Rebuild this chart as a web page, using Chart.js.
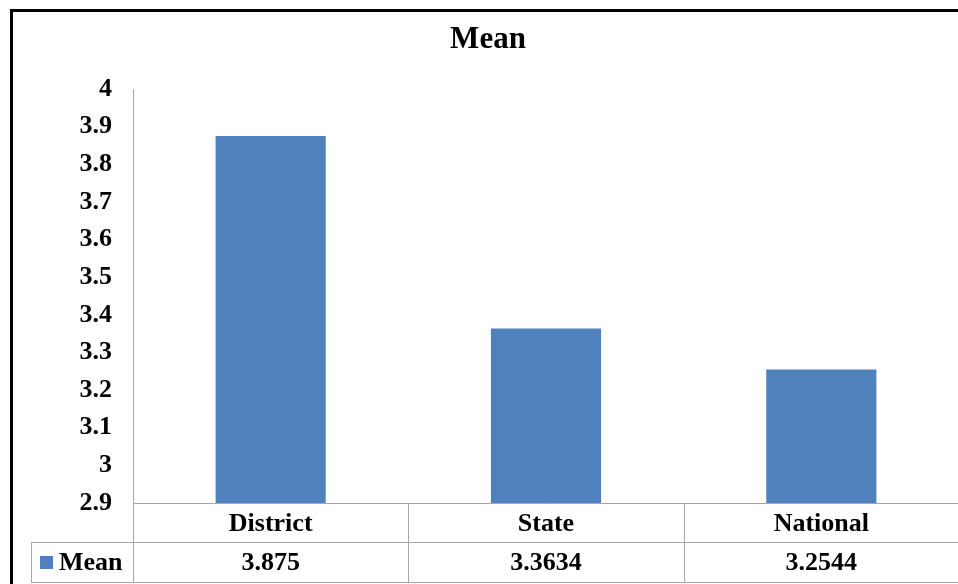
<!DOCTYPE html>
<html>
<head>
<meta charset="utf-8">
<script src="https://cdn.jsdelivr.net/npm/chart.js@4/dist/chart.umd.min.js"></script>
<style>
  html, body { margin: 0; padding: 0; background: #fff; overflow: hidden; }
  #wrap { position: relative; width: 960px; height: 584px; }
</style>
</head>
<body>
<div id="wrap"><canvas id="myChart"></canvas></div>
<script>
var categories = ["District", "State", "National"];
var meanValues = [3.875, 3.3634, 3.2544];
var valueLabels = ["3.875", "3.3634", "3.2544"];
var seriesName = "Mean";
var yTicks = [2.9, 3, 3.1, 3.2, 3.3, 3.4, 3.5, 3.6, 3.7, 3.8, 3.9, 4];

var serif = "'Liberation Serif', 'Times New Roman', serif";
var gridGray = "#a6a6a6";
var barBlue = "#4f81bd";

// frame, title and the data table under the bars
var tablePlugin = {
  id: "tablePlugin",
  afterDraw: function (chart) {
    var ctx = chart.ctx;
    var area = chart.chartArea;
    var xs = chart.scales.x;
    var left = area.left, right = area.right, bottom = area.bottom;
    var row2 = bottom + 39, row3 = bottom + 79;
    var step = (right - left) / categories.length;

    ctx.save();
    // outer black frame
    ctx.fillStyle = "#000";
    ctx.fillRect(10, 9, 960, 3);
    ctx.fillRect(10, 9, 3, 600);

    // title
    ctx.font = "bold 31px " + serif;
    ctx.textAlign = "center";
    ctx.textBaseline = "middle";
    ctx.fillText(seriesName, 488, 40);

    // table grid
    ctx.strokeStyle = gridGray;
    ctx.lineWidth = 1;
    ctx.beginPath();
    ctx.moveTo(31, row2 + 0.5); ctx.lineTo(right, row2 + 0.5);
    ctx.moveTo(31, row3 + 0.5); ctx.lineTo(right, row3 + 0.5);
    ctx.moveTo(31.5, row2); ctx.lineTo(31.5, row3);
    for (var i = 0; i <= categories.length; i++) {
      var gx = Math.round(left + i * step) + 0.5;
      ctx.moveTo(gx, bottom); ctx.lineTo(gx, row3);
    }
    ctx.stroke();

    // legend key
    ctx.fillStyle = barBlue;
    ctx.fillRect(40, 556, 13, 13);
    ctx.fillStyle = "#000";
    ctx.font = "bold 26px " + serif;
    ctx.textAlign = "left";
    ctx.fillText(seriesName, 59, (row2 + row3) / 2 + 1);

    // value row
    ctx.textAlign = "center";
    for (var j = 0; j < categories.length; j++) {
      ctx.fillText(valueLabels[j], xs.getPixelForValue(j), (row2 + row3) / 2 + 1);
    }
    ctx.restore();
  }
};

new Chart("myChart", {
  type: "bar",
  data: {
    labels: categories,
    datasets: [{
      label: seriesName,
      data: meanValues,
      backgroundColor: barBlue,
      categoryPercentage: 0.4,
      barPercentage: 1
    }]
  },
  options: {
    responsive: true,
    maintainAspectRatio: false,
    animation: false,
    layout: { padding: { top: 89, right: 1, bottom: 0, left: 0 } },
    plugins: {
      legend: { display: false },
      title: { display: false },
      tooltip: { enabled: false }
    },
    scales: {
      x: {
        grid: { display: false, drawTicks: false },
        border: { display: true, color: gridGray },
        ticks: {
          color: "#000",
          padding: 6,
          font: { family: serif, size: 26, weight: "bold" }
        },
        afterFit: function (scale) { scale.height = 81; }
      },
      y: {
        min: 2.9,
        max: 4,
        grid: { display: false, drawTicks: false },
        border: { display: true, color: gridGray },
        afterBuildTicks: function (scale) {
          scale.ticks = yTicks.map(function (v) { return { value: v }; });
        },
        ticks: {
          color: "#000",
          padding: 21,
          font: { family: serif, size: 26, weight: "bold" },
          callback: function (v) { return String(Math.round(v * 10) / 10); }
        },
        afterFit: function (scale) { scale.width = 133; }
      }
    }
  },
  plugins: [tablePlugin]
});
</script>
</body>
</html>
